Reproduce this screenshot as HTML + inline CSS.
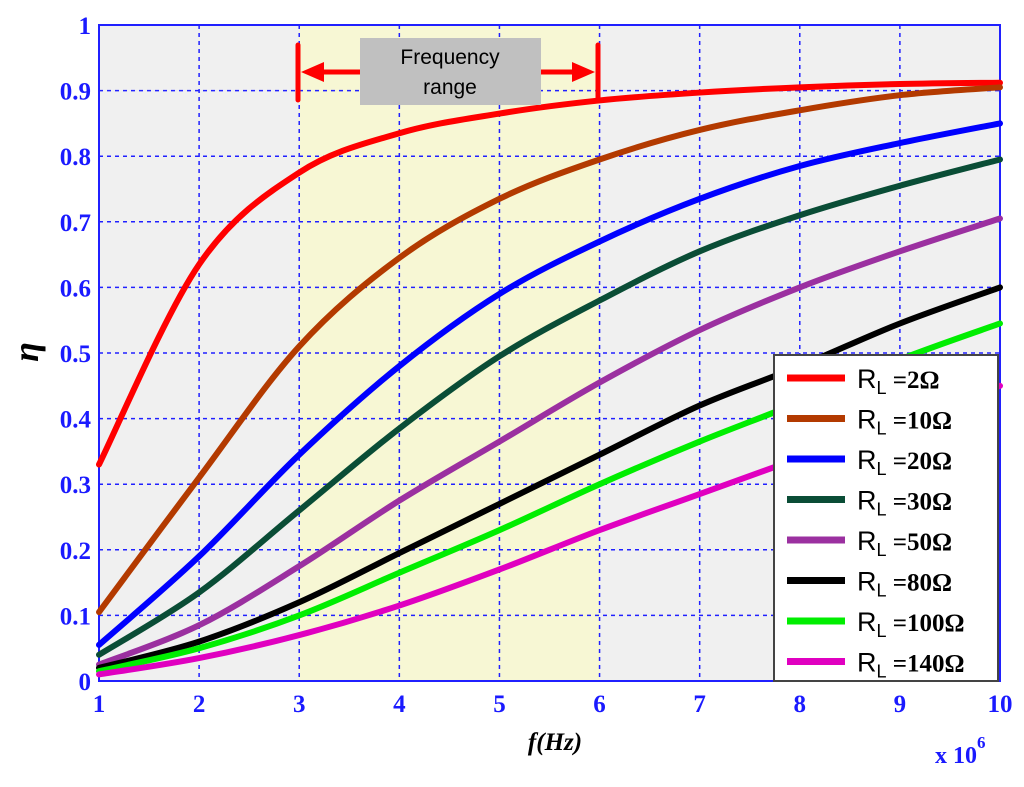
<!DOCTYPE html>
<html><head><meta charset="utf-8"><style>
body{margin:0;background:#fff}
svg text{font-family:"Liberation Serif",serif}
</style></head><body>
<svg id="chart" width="1024" height="782" xmlns="http://www.w3.org/2000/svg">
<rect x="99" y="25" width="901" height="656" fill="#f0f0f0"/>
<g id="grid"></g>
<g id="curves"></g>
<g id="ticks"></g>
<g>
<line x1="298" y1="45" x2="298" y2="100" stroke="#f00" stroke-width="5" stroke-linecap="round"/>
<line x1="598" y1="45" x2="598" y2="100" stroke="#f00" stroke-width="5" stroke-linecap="round"/>
<line x1="310" y1="72" x2="360" y2="72" stroke="#f00" stroke-width="5"/>
<line x1="541" y1="72" x2="586" y2="72" stroke="#f00" stroke-width="5"/>
<polygon points="301,72 324,62 324,82" fill="#f00"/>
<polygon points="595,72 572,62 572,82" fill="#f00"/>
<rect x="360" y="38" width="181" height="67" fill="#c0c0c0"/>
<text x="450" y="64" text-anchor="middle" font-size="21" style="font-family:'Liberation Sans',sans-serif">Frequency</text>
<text x="450" y="94" text-anchor="middle" font-size="21" style="font-family:'Liberation Sans',sans-serif">range</text>
</g>
<g id="legend"></g>
<text x="555" y="750" text-anchor="middle" font-size="25" font-weight="bold" font-style="italic" fill="#000">f(Hz)</text>
<text x="38" y="352" text-anchor="middle" font-size="36" font-weight="bold" font-style="italic" fill="#000" transform="rotate(-90 38 352)">η</text>
<text x="935" y="763" font-size="24" font-weight="bold" fill="#1a1aff">x 10<tspan dy="-15" font-size="17">6</tspan></text>
</svg>
<script>
const xValues=[1,2,3,4,5,6,7,8,9,10];
const xTicks=[1,2,3,4,5,6,7,8,9,10];
const yTicks=[0,0.1,0.2,0.3,0.4,0.5,0.6,0.7,0.8,0.9,1];
const seriesNames=["2Ω","10Ω","20Ω","30Ω","50Ω","80Ω","100Ω","140Ω"];
const seriesColors=["#ff0000","#b33a00","#0000ff","#0a4d36","#9b30a0","#000000","#00ee00","#e000c0"];
const s2=[0.33,0.635,0.775,0.835,0.865,0.885,0.897,0.905,0.91,0.912];
const s10=[0.105,0.31,0.51,0.645,0.735,0.795,0.84,0.87,0.893,0.905];
const s20=[0.055,0.19,0.345,0.48,0.59,0.67,0.735,0.785,0.82,0.85];
const s30=[0.04,0.135,0.26,0.385,0.495,0.58,0.655,0.71,0.755,0.795];
const s50=[0.025,0.085,0.175,0.275,0.365,0.455,0.535,0.6,0.655,0.705];
const s80=[0.02,0.06,0.12,0.195,0.27,0.345,0.42,0.48,0.545,0.6];
const s100=[0.015,0.05,0.1,0.165,0.23,0.3,0.365,0.425,0.49,0.545];
const s140=[0.01,0.035,0.07,0.115,0.17,0.23,0.285,0.34,0.395,0.45];
const shadeRange=[3,6];
const series=[s2,s10,s20,s30,s50,s80,s100,s140];
const NS="http://www.w3.org/2000/svg";
const X0=99,X1=1000,Y0=681,Y1=25;
const sx=v=>X0+(v-1)/9*(X1-X0);
const sy=v=>Y0-v*(Y0-Y1);
function mk(t,a,p){const e=document.createElementNS(NS,t);for(const k in a)e.setAttribute(k,a[k]);p.appendChild(e);return e;}
const grid=document.getElementById('grid');
const shade=mk('rect',{x:sx(shadeRange[0]),y:Y1,width:sx(shadeRange[1])-sx(shadeRange[0]),height:Y0-Y1,fill:'#f7f7d4'},grid);


xTicks.forEach(t=>{const l=mk('line',{x1:sx(t),x2:sx(t),y1:Y1,y2:Y0,stroke:'#2020ff','stroke-width':1.5,'stroke-dasharray':'4,4'},grid);

});
yTicks.forEach(t=>{const l=mk('line',{x1:X0,x2:X1,y1:sy(t),y2:sy(t),stroke:'#2020ff','stroke-width':1.5,'stroke-dasharray':'4,4'},grid);

});
const fr=mk('rect',{x:X0,y:Y1,width:X1-X0,height:Y0-Y1,fill:'none',stroke:'#2020ff','stroke-width':2},grid);


const curves=document.getElementById('curves');
function path(vals){const pts=vals.map((v,i)=>[sx(xValues[i]),sy(v)]);let d='M'+pts[0][0]+','+pts[0][1];
for(let i=0;i<pts.length-1;i++){const p0=pts[Math.max(0,i-1)],p1=pts[i],p2=pts[i+1],p3=pts[Math.min(pts.length-1,i+2)];
d+=' C'+(p1[0]+(p2[0]-p0[0])/6)+','+(p1[1]+(p2[1]-p0[1])/6)+' '+(p2[0]-(p3[0]-p1[0])/6)+','+(p2[1]-(p3[1]-p1[1])/6)+' '+p2[0]+','+p2[1];}return d;}
series.forEach((s,i)=>{const p=mk('path',{d:path(s),fill:'none',stroke:seriesColors[i],'stroke-width':6,'stroke-linecap':'round'},curves);

});
const ticks=document.getElementById('ticks');
xTicks.forEach(t=>{const e=mk('text',{x:sx(t),y:712,'text-anchor':'middle','font-size':25,'font-weight':'bold',fill:'#1a1aff'},ticks);e.textContent=t;

});
yTicks.forEach(t=>{const e=mk('text',{x:91,y:sy(t)+9,'text-anchor':'end','font-size':25,'font-weight':'bold',fill:'#1a1aff'},ticks);e.textContent=t;

});
const lg=document.getElementById('legend');
mk('rect',{x:774,y:355,width:224,height:326,fill:'#fff',stroke:'#444','stroke-width':2},lg);
seriesNames.forEach((n,i)=>{const y=378+i*40.5;
const l=mk('line',{x1:787,x2:845,y1:y,y2:y,stroke:seriesColors[i],'stroke-width':7},lg);


const t=mk('text',{x:857,y:y+10,'font-size':27,fill:'#000'},lg);
t.innerHTML='<tspan style="font-family:Liberation Sans,sans-serif">R</tspan><tspan dy="6" font-size="18" style="font-family:Liberation Sans,sans-serif">L</tspan><tspan dy="-6" font-weight="bold" font-size="25"> ='+n+'</tspan>';

});
</script>
</body></html>
